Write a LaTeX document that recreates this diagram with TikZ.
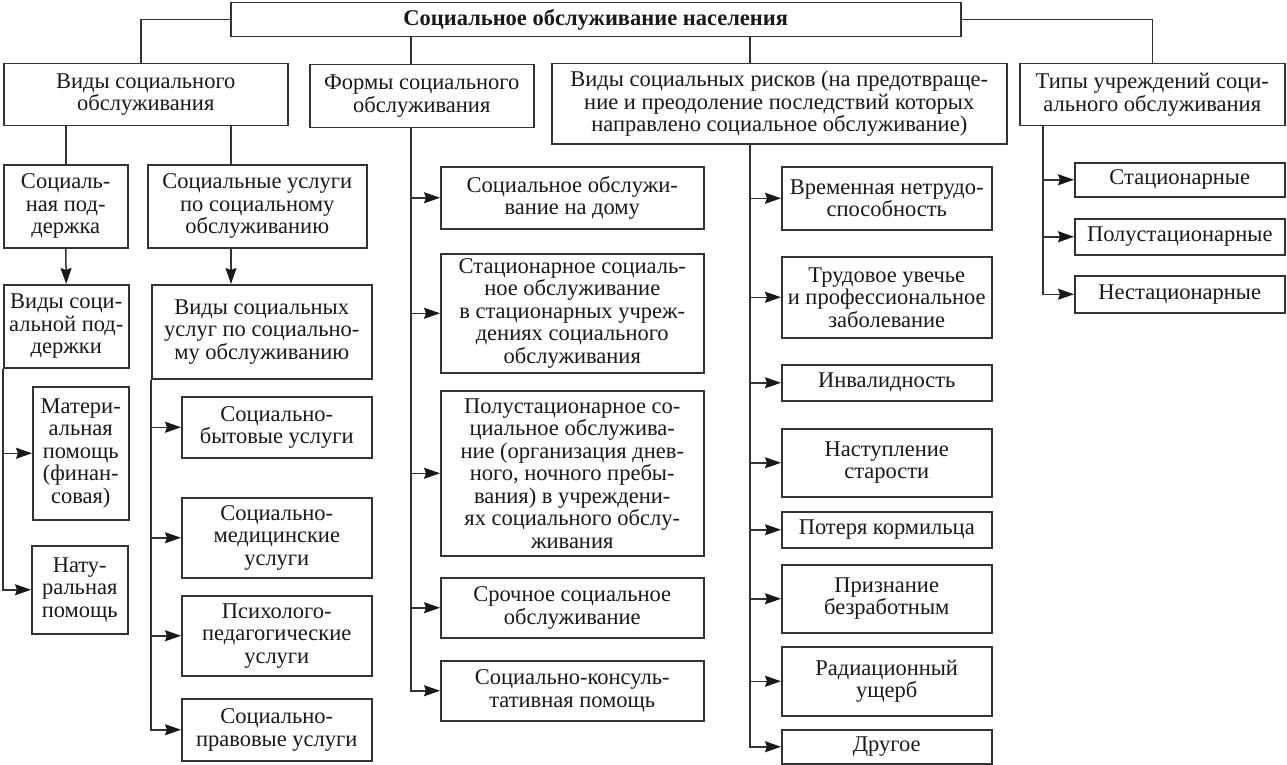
\documentclass[tikz,border=0pt]{standalone}
\usepackage{fontspec}
\setmainfont{Liberation Serif}
\usetikzlibrary{arrows.meta}
\newcommand\fsz{\fontsize{22.5}{22.5}\selectfont}
\tikzset{
  box/.style={draw=black!80, line width=1.5pt, align=center, inner sep=0pt,
    anchor=north west, font=\fsz, text=black!90},
  conn/.style={draw=black!80, line width=1.5pt},
  arr/.style={conn, -{Stealth[length=16pt,width=11pt,inset=2pt,color=black!90]}}
}
\newcommand\bxx[6]{\node[box, minimum width={(#4-#2)*1pt}, minimum height={(#5-#3)*1pt}] (#1) at (#2,#3) {#6};}
\begin{document}
\begin{tikzpicture}[x=1pt,y=-1pt]
\useasboundingbox[fill=white] (0,0) rectangle (1287,765);
\bxx{top}{230}{2}{960}{36}{\textbf{Социальное обслуживание населения}}
\bxx{B1}{3}{63}{287}{125}{Виды социального\\обслуживания}
\bxx{B2}{309}{64}{533}{127}{Формы социального\\обслуживания}
\bxx{B3}{551}{63}{1006}{143}{Виды социальных рисков (на предотвраще-\\ние и преодоление последствий которых\\направлено социальное обслуживание)}
\bxx{B4}{1019}{63}{1284}{125}{Типы учреждений соци-\\ального обслуживания}
\bxx{C1}{3}{164}{127}{247}{Социаль-\\ная под-\\держка}
\bxx{C2}{147}{164}{366}{247}{Социальные услуги\\по социальному\\обслуживанию}
\bxx{D1}{3}{284}{128}{367}{Виды соци-\\альной под-\\держки}
\bxx{D2}{151}{284}{371}{378}{Виды социальных\\услуг по социально-\\му обслуживанию}
\bxx{E1}{32}{386}{128}{519}{Матери-\\альная\\помощь\\(финан-\\совая)}
\bxx{E2}{31}{545}{127}{633}{Нату-\\ральная\\помощь}
\bxx{F1}{181}{396}{371}{457}{Социально-\\бытовые услуги}
\bxx{F2}{181}{497}{371}{577}{Социально-\\медицинские\\услуги}
\bxx{F3}{181}{595}{371}{675}{Психолого-\\педагогические\\услуги}
\bxx{F4}{181}{698}{371}{760}{Социально-\\правовые услуги}
\bxx{G1}{440}{166}{703}{228}{Социальное обслужи-\\вание на дому}
\bxx{G2}{440}{253}{703}{372}{Стационарное социаль-\\ное обслуживание\\в стационарных учреж-\\дениях социального\\обслуживания}
\bxx{G3}{440}{390}{703}{555}{Полустационарное со-\\циальное обслужива-\\ние (организация днев-\\ного, ночного пребы-\\вания) в учреждени-\\ях социального обслу-\\живания}
\bxx{G4}{440}{577}{703}{637}{Срочное социальное\\обслуживание}
\bxx{G5}{440}{660}{703}{720}{Социально-консуль-\\тативная помощь}
\bxx{H1}{781}{166}{991}{229}{Временная нетрудо-\\способность}
\bxx{H2}{781}{256}{991}{337}{Трудовое увечье\\и профессиональное\\заболевание}
\bxx{H3}{781}{364}{991}{400}{Инвалидность}
\bxx{H4}{781}{428}{991}{496}{Наступление\\старости}
\bxx{H5}{781}{511}{991}{547}{Потеря кормильца}
\bxx{H6}{781}{564}{991}{632}{Признание\\безработным}
\bxx{H7}{781}{646}{991}{715}{Радиационный\\ущерб}
\bxx{H8}{781}{729}{991}{763}{Другое}
\bxx{I1}{1074}{162}{1284}{196}{Стационарные}
\bxx{I2}{1074}{218}{1284}{254}{Полустационарные}
\bxx{I3}{1074}{275}{1284}{312}{Нестационарные}
\coordinate (xa) at (411,0);
\coordinate (xb) at (750,0);
\coordinate (xc) at (231,0);
\coordinate (xd) at (1043,0);
\coordinate (xe) at (141,0);
% top level
\draw[conn] (top.west) -| (xe |- B1.north);
\draw[conn] (xa |- top.south) -- (xa |- B2.north);
\draw[conn] (xb |- top.south) -- (xb |- B3.north);
\draw[conn] (top.east) -| (B4.north);
% left branch
\draw[conn] (C1.north |- B1.south) -- (C1.north);
\draw[conn] (xc |- B1.south) -- (xc |- C2.north);
\draw[arr] (C1.south) -- (D1.north);
\draw[arr] (xc |- C2.south) -- (xc |- D2.north);
\draw[arr] (D1.south west) |- (E2.west);
\draw[arr] (D1.south west |- E1.west) -- (E1.west);
\draw[arr] (D2.south west) |- (F4.west);
\foreach \n in {F1,F2,F3} \draw[arr] (D2.south west |- \n.west) -- (\n.west);
% forms
\draw[arr] (xa |- B2.south) |- (G5.west);
\foreach \n in {G1,G2,G3,G4} \draw[arr] (xa |- \n.west) -- (\n.west);
% risks
\draw[arr] (xb |- B3.south) |- (H8.west);
\foreach \n in {H1,H2,H3,H4,H5,H6,H7} \draw[arr] (xb |- \n.west) -- (\n.west);
% institutions
\draw[arr] (xd |- B4.south) |- (I3.west);
\foreach \n in {I1,I2} \draw[arr] (xd |- \n.west) -- (\n.west);
\end{tikzpicture}
\end{document}
